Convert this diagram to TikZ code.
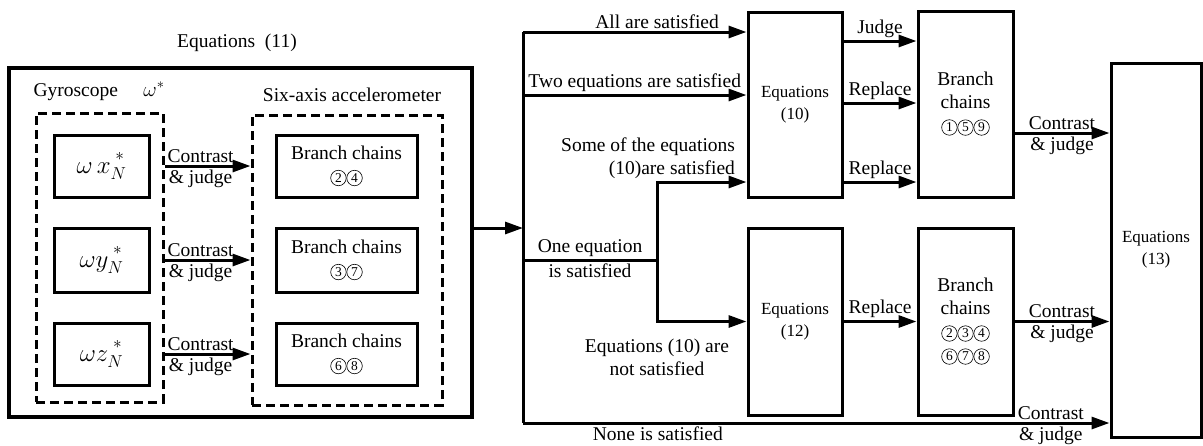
\documentclass[tikz,border=0pt]{standalone}
\usepackage{fontspec}
\setmainfont{Liberation Serif}
\usetikzlibrary{arrows.meta,calc}

% circled digit
\newcommand\circnum[1]{\tikz[baseline=(cn.base), x=1pt, y=1pt]
  \node[draw, circle, line width=0.6pt, inner sep=0pt, minimum size=15.5pt,
    font=\rmfamily\fontsize{13.5}{13.5}\selectfont] (cn) {#1};}

\begin{document}
\begin{tikzpicture}[x=1pt,y=-1pt,>={Triangle[length=18pt,width=12pt]},
    every node/.style={font=\rmfamily\fontsize{19.5}{23}\selectfont},
    box/.style={draw, line width=3pt, inner sep=0pt, align=center},
    dashbox/.style={draw, line width=3pt, dash pattern=on 9pt off 5pt},
    arr/.style={->, line width=3pt},
    wire/.style={line width=3pt},
    lbl/.style={inner sep=2pt},
    eqtext/.style={font=\rmfamily\fontsize{17}{22}\selectfont},
    bigmath/.style={font=\fontsize{26}{28}\selectfont}]
  \useasboundingbox (0,0) rectangle (1203,445);

  % left part: equations (11)
  \node[box, line width=4.5pt, minimum width=463, minimum height=349] (eq11) at (240.5,242.5) {};
  \node (eq11lbl) at (237,43) {Equations\ \ (11)};
  \node[dashbox, minimum width=127, minimum height=289] (gyro) at (99.5,257.5) {};
  \node[dashbox, minimum width=190, minimum height=290] (acc) at (347,260) {};
  \node[anchor=west] (gyrolbl) at (30,92) {Gyroscope};
  \node (omega) at (154,89) {$\omega^{*}$};
  \node (acclbl) at (352,95) {Six-axis accelerometer};

  \node[box, bigmath, minimum width=95, minimum height=62] (wx) at (101.5,166) {$\omega\,x_N^{\;\raisebox{4pt}{$\scriptstyle *$}}$};
  \node[box, bigmath, minimum width=95, minimum height=64] (wy) at (101.5,260) {$\omega y_N^{\;\raisebox{4pt}{$\scriptstyle *$}}$};
  \node[box, bigmath, minimum width=95, minimum height=62] (wz) at (101.5,354) {$\omega z_N^{\;\raisebox{4pt}{$\scriptstyle *$}}$};
  \node[box, minimum width=141, minimum height=62] (bc24) at (346.5,166) {Branch chains\\\circnum{2}\circnum{4}};
  \node[box, minimum width=141, minimum height=64] (bc37) at (346.5,260) {Branch chains\\\circnum{3}\circnum{7}};
  \node[box, minimum width=141, minimum height=62] (bc68) at (346.5,354) {Branch chains\\\circnum{6}\circnum{8}};

  \foreach \g/\b in {wx/bc24, wy/bc37, wz/bc68}
    \draw[arr] (gyro.east |- \g) -- (acc.west |- \b)
      node[pos=0.42, above, lbl] {Contrast} node[pos=0.42, below, lbl] {\& judge};

  % right part
  \node[box, eqtext, minimum width=94, minimum height=185] (eq10) at (795,104.5) {Equations\\(10)};
  \node[box, eqtext, minimum width=94, minimum height=187] (eq12) at (795,321.5) {Equations\\(12)};
  \node[box, minimum width=95, minimum height=186] (bc159) at (965.5,104) {Branch\\chains\\\circnum{1}\circnum{5}\circnum{9}};
  \node[box, minimum width=95, minimum height=187] (bc2) at (965.5,321.5) {Branch\\chains\\\circnum{2}\circnum{3}\circnum{4}\\\circnum{6}\circnum{7}\circnum{8}};
  \node[box, eqtext, minimum width=90, minimum height=374] (eq13) at (1156,250) {Equations\\(13)};

  \coordinate (bustop) at (523,32);
  \coordinate (busbot) at (523,423);
  \coordinate (split) at (657,260);

  \draw[arr] (eq11.east |- 0,228) -- (bustop |- 0,228);
  \draw[wire] (bustop) -- (busbot);
  \draw[arr] (bustop) -- (eq10.west |- bustop) node[pos=0.6, above, lbl] {All are satisfied};
  \draw[arr] (bustop |- 0,95) -- (eq10.west |- 0,95) node[midway, above, lbl] {Two equations are satisfied};
  \draw[wire] (bustop |- split) -- (split)
    node[midway, above, lbl] {One equation} node[midway, below, lbl] {is satisfied};
  \draw[arr] (split) |- (eq10.west |- 0,182)
    node[pos=1, anchor=south east, align=right, lbl, xshift=-8pt] {Some of the equations\\(10)are satisfied};
  \draw[arr] (split) |- (eq12.west)
    node[pos=0.5, below=14pt, align=center, lbl] {Equations (10) are\\not satisfied};
  \draw[arr] (busbot) -- (eq13.west |- busbot)
    node[pos=0.23, below, lbl] {None is satisfied}
    node[pos=0.9, above, lbl] {Contrast} node[pos=0.9, below, lbl] {\& judge};

  \foreach \y/\t in {41/Judge, 103/Replace, 182/Replace}
    \draw[arr] (eq10.east |- 0,\y) -- (bc159.west |- 0,\y) node[midway, above, lbl] {\t};
  \draw[arr] (eq12.east) -- (bc2.west) node[midway, above, lbl] {Replace};
  \draw[arr] (bc159.east |- 0,133) -- (eq13.west |- 0,133)
    node[midway, above, lbl] {Contrast} node[midway, below, lbl] {\& judge};
  \draw[arr] (bc2.east) -- (eq13.west |- bc2.east)
    node[midway, above, lbl] {Contrast} node[midway, below, lbl] {\& judge};
\end{tikzpicture}
\end{document}
